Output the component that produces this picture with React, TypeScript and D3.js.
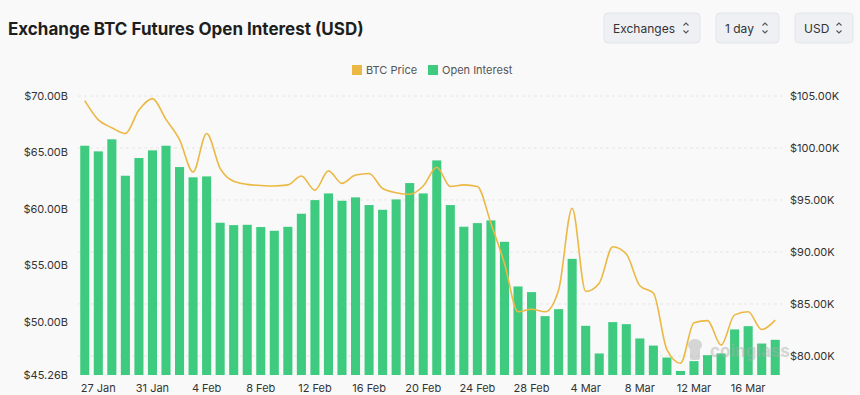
import React from 'react'
import * as d3 from 'd3'

// daily, 26 Jan .. 18 Mar
const dates = d3.timeDays(new Date(2025, 0, 26), new Date(2025, 2, 19))

// open interest, billions USD
const openInterest = [
  65.59, 65.09, 66.16, 62.93, 64.5, 65.18, 65.59, 63.7, 62.79, 62.87,
  58.76, 58.55, 58.58, 58.38, 58.05, 58.4, 59.56, 60.77, 61.36, 60.71,
  61.01, 60.33, 59.91, 60.83, 62.28, 61.36, 64.29, 60.33, 58.41, 58.73,
  58.97, 57.07, 53.11, 52.61, 50.48, 51.1, 55.56, 49.62, 47.17, 49.95,
  49.77, 48.5, 47.87, 46.81, 45.62, 46.49, 47.02, 47.17, 49.3, 49.59,
  48.05, 48.38
]

// btc price, thousands USD
const btcPrice = [
  104.55, 102.7, 101.95, 101.4, 103.65, 104.75, 102.75, 100.8, 97.7, 101.4,
  98.05, 96.8, 96.5, 96.4, 96.35, 96.45, 97.3, 95.95, 97.8, 96.6,
  97.4, 97.55, 96.1, 95.7, 95.55, 96.35, 98.15, 96.3, 96.45, 96.3,
  92.75, 88.9, 84.25, 84.5, 84.25, 86.35, 94.2, 86.2, 87.0, 90.5,
  89.8, 86.75, 86.05, 80.6, 79.3, 83.2, 83.4, 81.05, 83.95, 84.25,
  82.55, 83.45
]

const leftTicks = [70, 65, 60, 55, 50, 45.26]
const rightTicks = [105, 100, 95, 90, 85, 80]
const tickDates = ['27 Jan', '31 Jan', '4 Feb', '8 Feb', '12 Feb', '16 Feb', '20 Feb', '24 Feb', '28 Feb', '4 Mar', '8 Mar', '12 Mar', '16 Mar']

const buttons = ['Exchanges', '1 day', 'USD']

const W = 860
const H = 395
const margin = { top: 96, right: 78, bottom: 20, left: 78 }
const font = 'Inter, "Noto Sans", sans-serif'
const green = '#3ecb80'
const gold = '#ebb843'

const fmtDay = d3.timeFormat('%-d %b')

export default function App () {
  const x = d3.scaleBand<Date>()
    .domain(dates)
    .range([margin.left, W - margin.right])
    .paddingInner(0.33)
    .paddingOuter(0.165)

  const yL = d3.scaleLinear().domain([45.26, 70]).range([H - margin.bottom, margin.top])
  const yR = d3.scaleLinear().domain([78.17, 105]).range([H - margin.bottom, margin.top])

  const cx = (d: Date) => (x(d) as number) + x.bandwidth() / 2

  const line = d3.line<number>()
    .x((_, i) => cx(dates[i]))
    .y(d => yR(d))
    .curve(d3.curveMonotoneX)

  const btnX = [604, 716, 795]
  const btnW = [96, 63, 58]

  return (
    <div style={{ position: 'absolute', left: 0, top: 0 }}>
      <svg width={W} height={H} style={{ display: 'block', fontFamily: font }}>
        <rect width={W} height={H} fill='#f9f9f9' />

        <text x={8} y={35} fontSize={17} fontWeight={700} fill='#1e1e1e'>
          Exchange BTC Futures Open Interest (USD)
        </text>

        {buttons.map((b, i) => (
          <g key={b} transform={`translate(${btnX[i]},13)`}>
            <rect width={btnW[i]} height={30} rx={4} fill='#eef0f3' stroke='#e2e5e9' />
            <text x={9} y={19.5} fontSize={12} fill='#333'>{b}</text>
            <path
              d={`M${btnW[i] - 16.5},12.5 l2.5,-2.5 l2.5,2.5 M${btnW[i] - 16.5},17.5 l2.5,2.5 l2.5,-2.5`}
              fill='none' stroke='#555' strokeWidth={1.1}
            />
          </g>
        ))}

        {/* legend */}
        <rect x={352} y={65} width={10} height={10} fill={gold} />
        <text x={366} y={74} fontSize={11} fill='#555'>BTC Price</text>
        <rect x={428} y={65} width={10} height={10} fill={green} />
        <text x={442} y={74} fontSize={11} fill='#555'>Open Interest</text>

        {/* grid */}
        {rightTicks.map(t => (
          <line key={t} x1={margin.left} x2={W - margin.right} y1={yR(t)} y2={yR(t)}
            stroke='#e6e6e6' strokeDasharray='3,3' />
        ))}

        {dates.map((d, i) => (
          <rect key={i} x={x(d)} y={yL(openInterest[i])} width={x.bandwidth()}
            height={yL.range()[0] - yL(openInterest[i])} fill={green} />
        ))}

        <path d={line(btcPrice) || ''} fill='none' stroke={gold} strokeWidth={1.6} />

        {/* watermark */}
        <g opacity={0.45}>
          <ellipse cx={695} cy={345} rx={7} ry={6} fill='#aaa' />
          <rect x={690} y={347} width={10} height={13} rx={2} fill='#aaa' />
          <text x={710} y={357} fontSize={17} fontWeight={700} fill='#aaa'>coinglass</text>
        </g>

        {leftTicks.map(t => (
          <text key={t} x={68} y={yL(t) + 4} fontSize={11} textAnchor='end' fill='#333'>
            {'$' + t.toFixed(2) + 'B'}
          </text>
        ))}
        {rightTicks.map(t => (
          <text key={t} x={790} y={yR(t) + 4} fontSize={11} fill='#333'>
            {'$' + t.toFixed(2) + 'K'}
          </text>
        ))}
        {dates.filter(d => tickDates.includes(fmtDay(d))).map(d => (
          <text key={+d} x={cx(d)} y={392} fontSize={11} textAnchor='middle' fill='#333'>
            {fmtDay(d)}
          </text>
        ))}
      </svg>
    </div>
  )
}
